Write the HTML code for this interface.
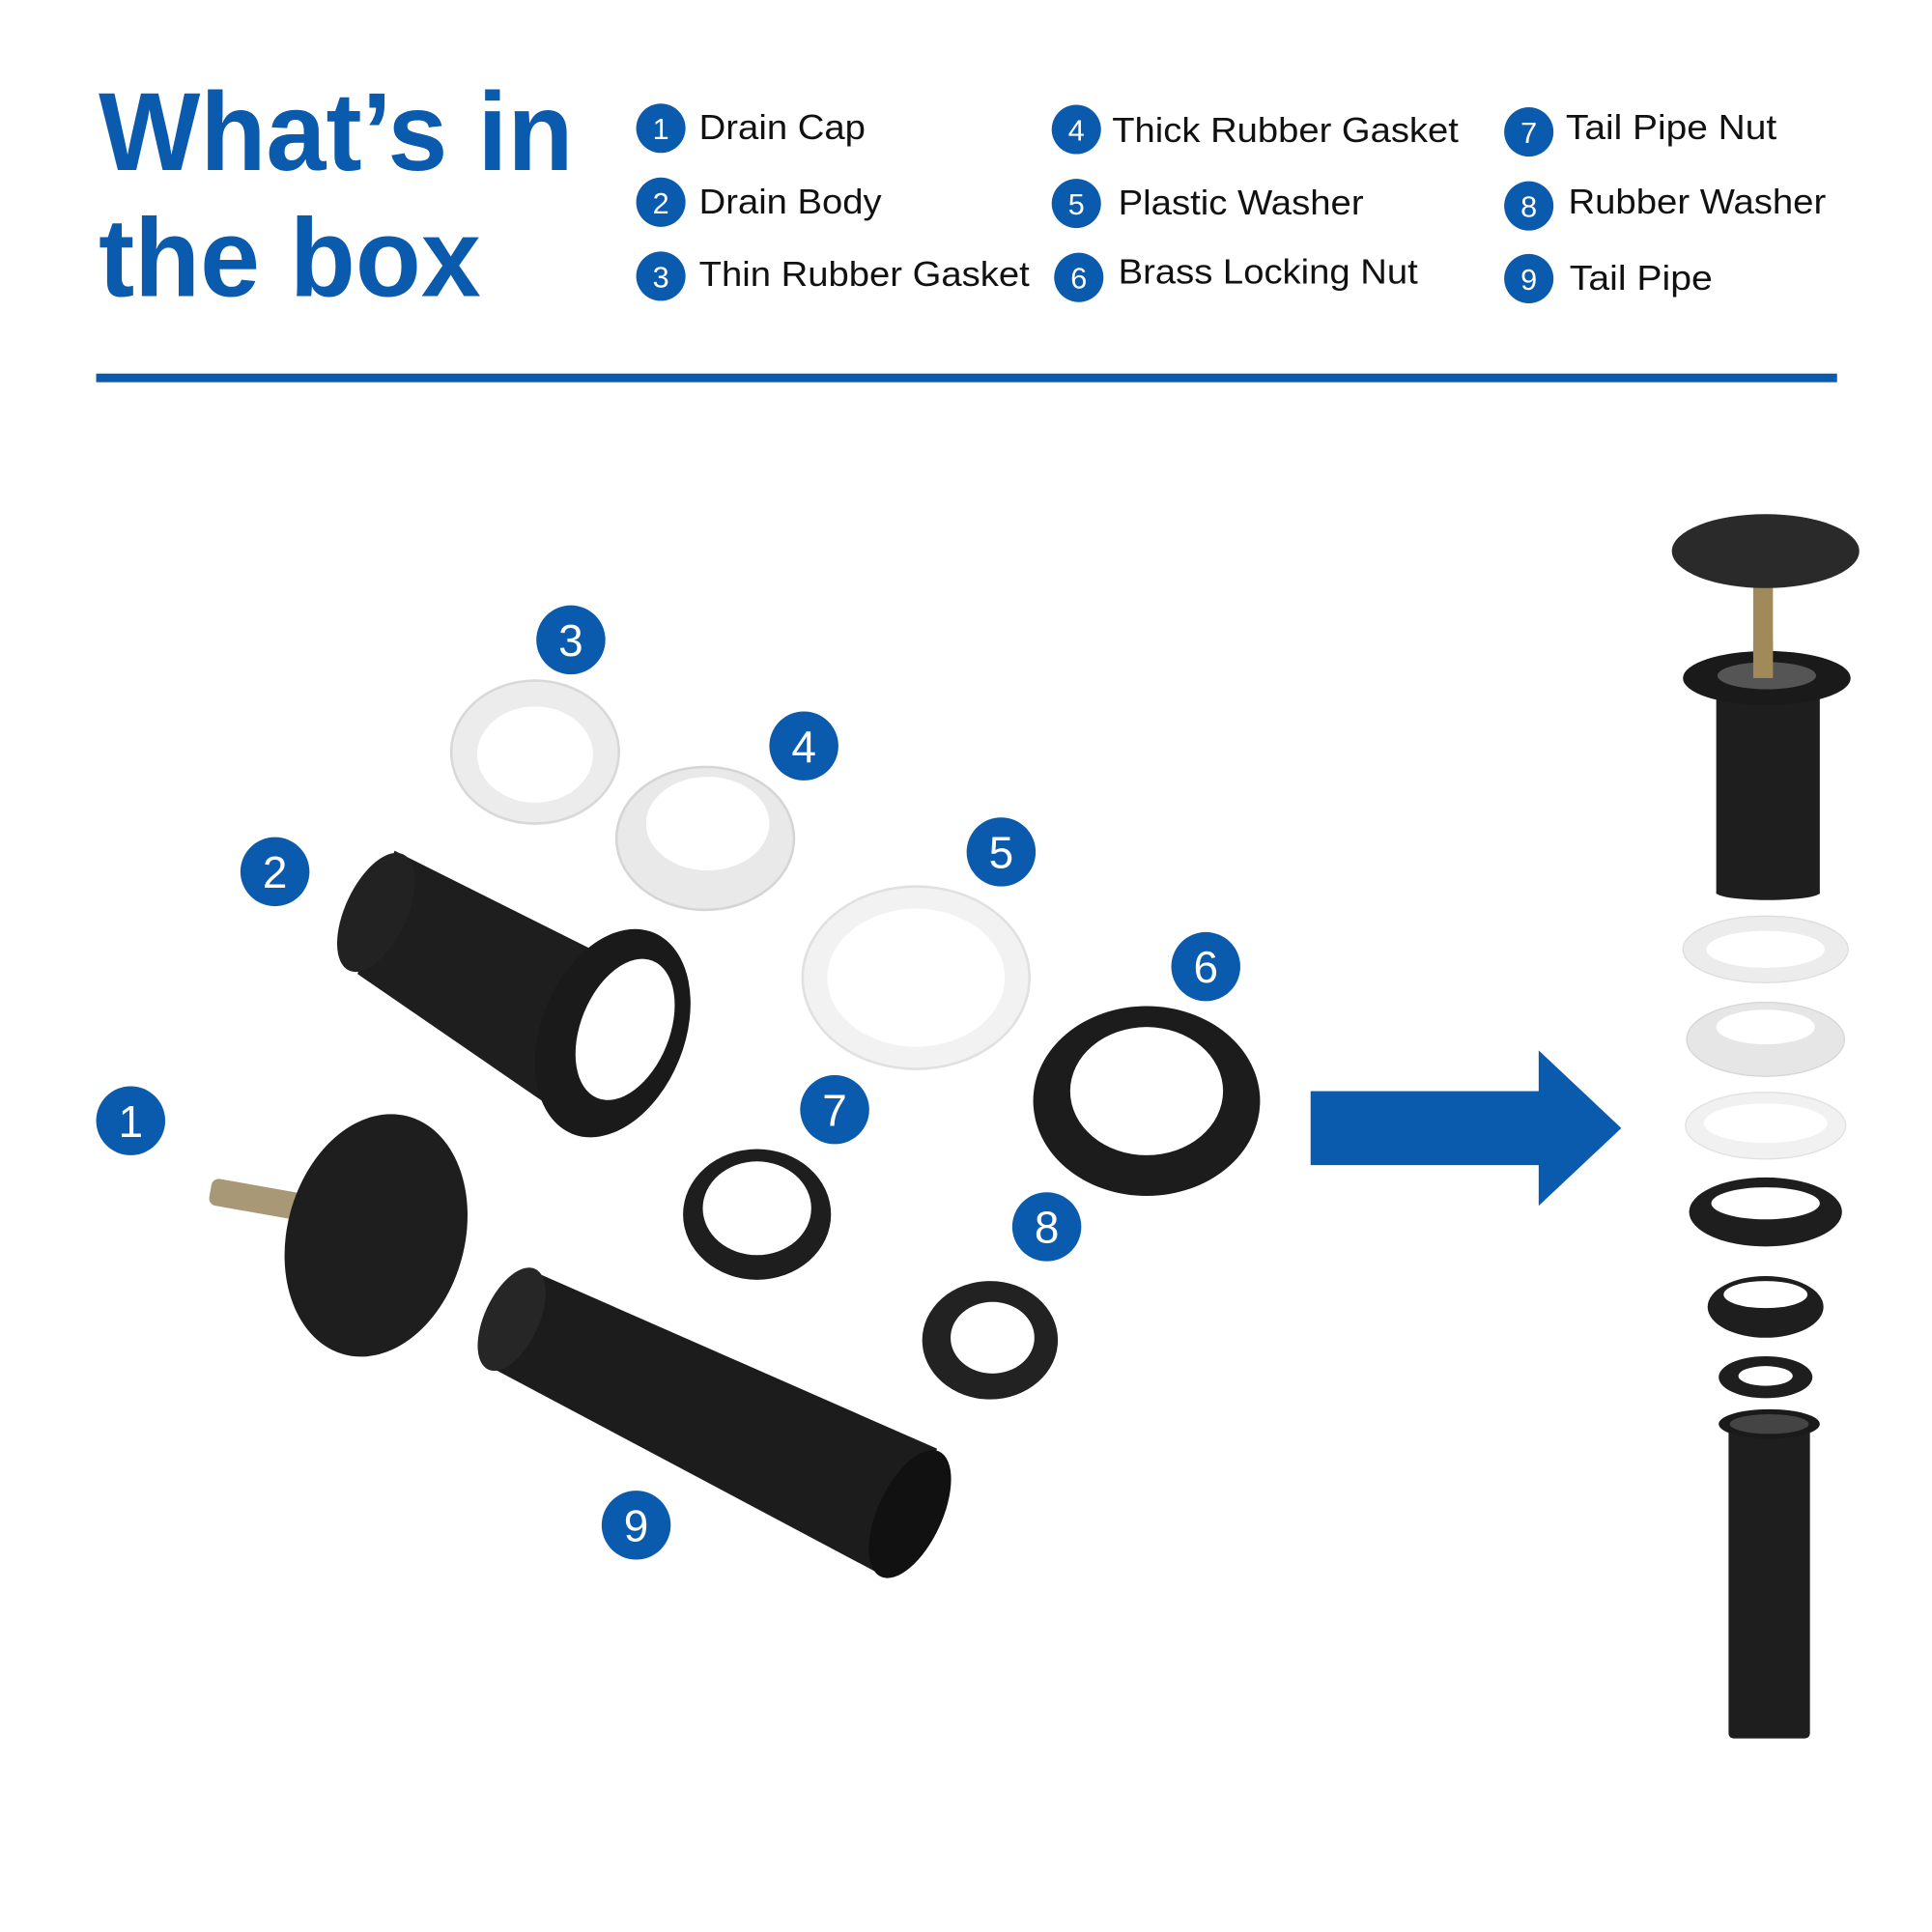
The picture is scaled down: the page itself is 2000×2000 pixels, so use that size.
<!DOCTYPE html>
<html><head><style>html,body{margin:0;padding:0;background:#fff}svg{display:block}</style></head>
<body>
<svg xmlns="http://www.w3.org/2000/svg" width="2000" height="2000" viewBox="0 0 1567 1567">
<rect width="1567" height="1567" fill="#fff"/>
<g font-family="Liberation Sans, Arial, sans-serif">
<text x="80" y="138" font-size="90" font-weight="bold" fill="#0a5aad" textLength="385" lengthAdjust="spacingAndGlyphs">What’s in</text>
<text x="80" y="240" font-size="90" font-weight="bold" fill="#0a5aad" textLength="310" lengthAdjust="spacingAndGlyphs">the box</text>
<g fill="#0a5aad">
<circle cx="536" cy="104" r="20"/><circle cx="536" cy="164" r="20"/><circle cx="536" cy="224" r="20"/>
<circle cx="873" cy="105" r="20"/><circle cx="873" cy="165" r="20"/><circle cx="875" cy="225" r="20"/>
<circle cx="1240" cy="107" r="20"/><circle cx="1240" cy="167" r="20"/><circle cx="1240" cy="226" r="20"/>
</g>
<g fill="#fff" font-size="24" text-anchor="middle">
<text x="536" y="113">1</text><text x="536" y="173">2</text><text x="536" y="233">3</text>
<text x="873" y="114">4</text><text x="873" y="174">5</text><text x="875" y="234">6</text>
<text x="1240" y="116">7</text><text x="1240" y="176">8</text><text x="1240" y="235">9</text>
</g>
<g fill="#111" font-size="28">
<text x="567" y="113" textLength="135" lengthAdjust="spacingAndGlyphs">Drain Cap</text>
<text x="567" y="173" textLength="148" lengthAdjust="spacingAndGlyphs">Drain Body</text>
<text x="567" y="232" textLength="268" lengthAdjust="spacingAndGlyphs">Thin Rubber Gasket</text>
<text x="902" y="115" textLength="281" lengthAdjust="spacingAndGlyphs">Thick Rubber Gasket</text>
<text x="907" y="174" textLength="199" lengthAdjust="spacingAndGlyphs">Plastic Washer</text>
<text x="907" y="230" textLength="243" lengthAdjust="spacingAndGlyphs">Brass Locking Nut</text>
<text x="1270" y="113" textLength="171" lengthAdjust="spacingAndGlyphs">Tail Pipe Nut</text>
<text x="1272" y="173" textLength="209" lengthAdjust="spacingAndGlyphs">Rubber Washer</text>
<text x="1273" y="235" textLength="116" lengthAdjust="spacingAndGlyphs">Tail Pipe</text>
</g>
<rect x="78" y="303" width="1412" height="7" fill="#0a5aad"/>

<ellipse cx="434" cy="610" rx="68" ry="58" fill="#ececec" stroke="#d8d8d8" stroke-width="2"/>
<ellipse cx="434" cy="612" rx="47" ry="39" fill="#fff"/>
<ellipse cx="572" cy="680" rx="72" ry="58" fill="#e9e9e9" stroke="#d5d5d5" stroke-width="2"/>
<ellipse cx="574" cy="668" rx="50" ry="38" fill="#fff"/>
<ellipse cx="743" cy="793" rx="92" ry="74" fill="#f2f2f2" stroke="#e0e0e0" stroke-width="2"/>
<ellipse cx="743" cy="793" rx="72" ry="56" fill="#fff"/>
<ellipse cx="930" cy="893" rx="92" ry="77" fill="#1c1c1c"/>
<ellipse cx="930" cy="885" rx="62" ry="52" fill="#fff"/>
<polygon points="320,690 500,780 450,900 290,790" fill="#1e1e1e"/>
<ellipse cx="305" cy="740" rx="25" ry="52" transform="rotate(25 305 740)" fill="#222"/>
<ellipse cx="497" cy="838" rx="58" ry="88" transform="rotate(22 497 838)" fill="#1a1a1a"/>
<ellipse cx="507" cy="835" rx="36" ry="60" transform="rotate(22 507 835)" fill="#fff"/>
<rect x="170" y="962" width="80" height="22" rx="6" fill="#a89876" transform="rotate(10 210 973)"/>
<ellipse cx="305" cy="1002" rx="72" ry="100" transform="rotate(15 305 1002)" fill="#1e1e1e"/>
<ellipse cx="614" cy="985" rx="60" ry="53" fill="#1e1e1e"/>
<ellipse cx="614" cy="980" rx="44" ry="38" fill="#fff"/>
<ellipse cx="803" cy="1087" rx="55" ry="48" fill="#222"/>
<ellipse cx="805" cy="1085" rx="34" ry="29" fill="#fff"/>
<polygon points="430,1030 760,1175 720,1280 400,1110" fill="#1c1c1c"/>
<ellipse cx="415" cy="1070" rx="22" ry="45" transform="rotate(25 415 1070)" fill="#262626"/>
<ellipse cx="738" cy="1228" rx="26" ry="56" transform="rotate(25 738 1228)" fill="#111"/>

<g fill="#0a5aad">
<circle cx="463" cy="519" r="28"/><circle cx="652" cy="605" r="28"/><circle cx="223" cy="707" r="28"/>
<circle cx="812" cy="691" r="28"/><circle cx="978" cy="784" r="28"/><circle cx="106" cy="909" r="28"/>
<circle cx="677" cy="900" r="28"/><circle cx="849" cy="995" r="28"/><circle cx="516" cy="1237" r="28"/>
</g>
<g fill="#fff" font-size="36" text-anchor="middle">
<text x="463" y="532">3</text><text x="652" y="618">4</text><text x="223" y="720">2</text>
<text x="812" y="704">5</text><text x="978" y="797">6</text><text x="106" y="922">1</text>
<text x="677" y="913">7</text><text x="849" y="1008">8</text><text x="516" y="1250">9</text>
</g>
<rect x="1063" y="885" width="190" height="60" fill="#0a5aad"/>
<polygon points="1248,852 1315,915 1248,978" fill="#0a5aad"/>

<rect x="1422" y="475" width="16" height="70" fill="#a08a5a"/>
<ellipse cx="1432" cy="447" rx="76" ry="30" fill="#2a2a2a"/>
<rect x="1392" y="555" width="84" height="170" fill="#1e1e1e"/>
<ellipse cx="1434" cy="724" rx="42" ry="6" fill="#1e1e1e"/>
<ellipse cx="1433" cy="550" rx="68" ry="22" fill="#1a1a1a"/>
<ellipse cx="1433" cy="548" rx="40" ry="11" fill="#555"/>
<rect x="1422" y="520" width="16" height="30" fill="#a08a5a"/>
<ellipse cx="1432" cy="770" rx="67" ry="27" fill="#ececec" stroke="#ddd"/>
<ellipse cx="1432" cy="770" rx="48" ry="15" fill="#fff"/>
<ellipse cx="1432" cy="843" rx="64" ry="30" fill="#e6e6e6" stroke="#d5d5d5"/>
<ellipse cx="1432" cy="833" rx="40" ry="14" fill="#fff"/>
<ellipse cx="1432" cy="913" rx="65" ry="27" fill="#f1f1f1" stroke="#e0e0e0"/>
<ellipse cx="1432" cy="911" rx="50" ry="16" fill="#fff"/>
<ellipse cx="1432" cy="983" rx="62" ry="28" fill="#1e1e1e"/>
<ellipse cx="1432" cy="976" rx="44" ry="13" fill="#fff"/>
<ellipse cx="1432" cy="1060" rx="47" ry="25" fill="#1e1e1e"/>
<ellipse cx="1432" cy="1050" rx="34" ry="11" fill="#fff"/>
<ellipse cx="1432" cy="1117" rx="38" ry="17" fill="#1e1e1e"/>
<ellipse cx="1432" cy="1116" rx="22" ry="8" fill="#fff"/>
<rect x="1402" y="1155" width="66" height="255" rx="4" fill="#1e1e1e"/>
<ellipse cx="1435" cy="1155" rx="41" ry="12" fill="#1a1a1a"/>
<ellipse cx="1435" cy="1155" rx="32" ry="8" fill="#444"/>
</g>
</svg>
</body></html>
